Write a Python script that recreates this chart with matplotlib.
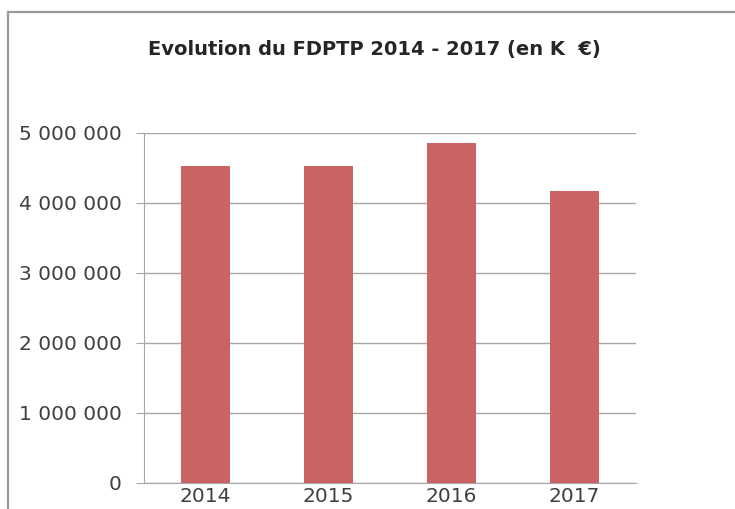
import matplotlib
matplotlib.use("Agg")
import matplotlib.pyplot as plt
from matplotlib.patches import Rectangle
from matplotlib.ticker import FuncFormatter

# FDPTP en K€
years = ["2014", "2015", "2016", "2017"]
fdptp = [4533000, 4533000, 4862000, 4167000]

BAR_COLOR = "#C96462"
GRID_COLOR = "#A6A6A6"
TEXT_COLOR = "#404040"


def fmt_space(v, pos):
    return f"{int(v):,}".replace(",", " ")


plt.rcParams["font.family"] = ["DejaVu Sans"]

fig = plt.figure(figsize=(7.35, 5.09), dpi=100)
fig.patch.set_facecolor("white")

# cadre du graphique (bord gauche et haut visibles)
fig.patches.append(Rectangle((8 / 735, -0.05), 1.2, 1 - 12 / 509 + 0.05,
                             transform=fig.transFigure, fill=False,
                             edgecolor="#9A9A9A", linewidth=1.6))

ax = fig.add_axes([144 / 735, 1 - 483 / 509, 492 / 735, 350 / 509])
x = range(len(years))
ax.bar(x, fdptp, width=0.4, color=BAR_COLOR, zorder=3)

ax.set_xlim(-0.5, len(years) - 0.5)
ax.set_ylim(0, 5000000)
ax.set_yticks(range(0, 5000001, 1000000))
ax.yaxis.set_major_formatter(FuncFormatter(fmt_space))
ax.set_xticks(list(x))
ax.set_xticklabels(years)

ax.grid(axis="y", color=GRID_COLOR, linewidth=1, zorder=0)
for side in ["top", "right"]:
    ax.spines[side].set_visible(False)
for side in ["left", "bottom"]:
    ax.spines[side].set_color(GRID_COLOR)
ax.tick_params(axis="y", length=6, color=GRID_COLOR, labelsize=14.5,
               labelcolor=TEXT_COLOR, pad=10)
ax.tick_params(axis="x", length=0, labelsize=14.5, labelcolor=TEXT_COLOR, pad=3)

fig.text(0.51, 1 - 50 / 509, "Evolution du FDPTP 2014 - 2017 (en K  €)",
         ha="center", va="center", fontsize=14, fontweight="bold", color="#262626")

fig.savefig("out.png", dpi=100)
